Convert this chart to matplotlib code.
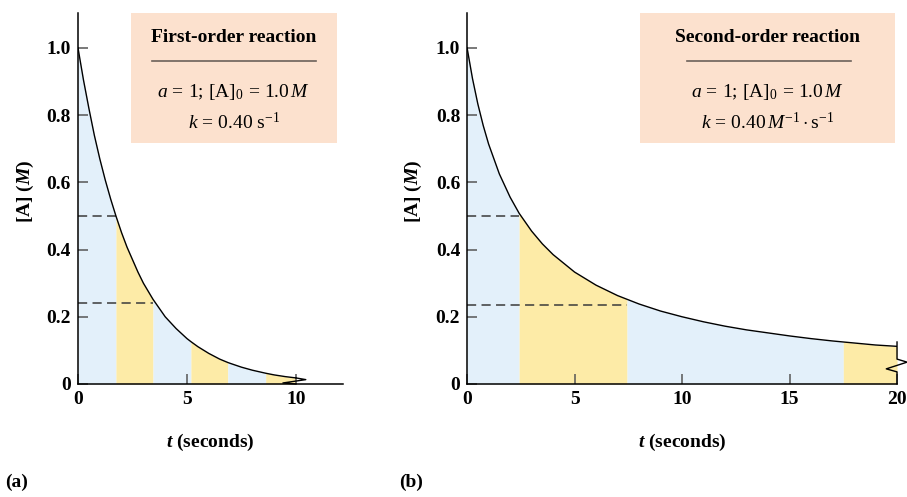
import numpy as np
import matplotlib
matplotlib.use('Agg')
import matplotlib.pyplot as plt
from matplotlib.patches import Rectangle

# ──────────────────────────────────────────────────────────────
# Datos
# ──────────────────────────────────────────────────────────────

# (a) primer orden: t (s) y [A] (M)
t_first = [0.0, 0.25, 0.5, 0.75, 1.0, 1.25, 1.5, 1.74, 2.0, 2.25, 2.5, 2.75,
           3.0, 3.44, 4.0, 4.5, 5.0, 5.18, 5.5, 6.0, 6.5, 6.87, 7.0, 7.5,
           8.0, 8.61, 9.0, 9.5, 10.0]
a_first = [1.00, 0.905, 0.82, 0.74, 0.67, 0.607, 0.55, 0.50, 0.45, 0.407,
           0.37, 0.333, 0.30, 0.252, 0.20, 0.165, 0.135, 0.126, 0.111, 0.091,
           0.074, 0.064, 0.061, 0.050, 0.041, 0.032, 0.027, 0.022, 0.018]
half_first = [0.0, 1.74, 3.44, 5.18, 6.87, 8.61, 10.0]   # límites de bandas
dash_first = [(0.50, 1.74), (0.24, 3.44)]               # (nivel, t final)

# (b) segundo orden
t_second = [0.0, 0.25, 0.5, 0.75, 1.0, 1.5, 2.0, 2.42, 3.0, 3.5, 4.0, 5.0,
            6.0, 7.0, 7.44, 8.0, 9.0, 10.0, 11.0, 12.0, 13.0, 14.0, 15.0,
            16.0, 17.0, 17.5, 18.0, 19.0, 20.0]
a_second = [1.00, 0.909, 0.833, 0.769, 0.714, 0.625, 0.556, 0.508, 0.455,
            0.417, 0.385, 0.333, 0.294, 0.263, 0.252, 0.238, 0.217, 0.200,
            0.185, 0.172, 0.161, 0.152, 0.143, 0.135, 0.128, 0.125, 0.122,
            0.116, 0.112]
half_second = [0.0, 2.42, 7.44, 17.5, 20.0]
dash_second = [(0.50, 2.42), (0.235, 7.44)]

yticks = [0, 0.2, 0.4, 0.6, 0.8, 1.0]
ytick_labels = ['0', '0.2', '0.4', '0.6', '0.8', '1.0']

# ──────────────────────────────────────────────────────────────
# Estilo
# ──────────────────────────────────────────────────────────────
plt.rcParams['font.family'] = 'Liberation Serif'
plt.rcParams['mathtext.fontset'] = 'custom'
plt.rcParams['mathtext.rm'] = 'Liberation Serif'
plt.rcParams['mathtext.it'] = 'Liberation Serif:italic'
plt.rcParams['mathtext.bf'] = 'Liberation Serif:bold'
plt.rcParams['mathtext.bfit'] = 'Liberation Serif:bold:italic'

BLUE   = '#E3F0FA'
YELLOW = '#FDEBA7'
PEACH  = '#FCE1CE'
FS     = 14

fig = plt.figure(figsize=(9.07, 4.97), dpi=100)
ax_a = fig.add_axes([0.086, 0.2274, 0.292, 0.7465])
ax_b = fig.add_axes([0.515, 0.2274, 0.474, 0.7465])


def panel(ax, t, a, bounds, dashes, xmax, xticks, title, line1, line2, box,
          ylab_x):
    t = np.array(t)
    a = np.array(a)
    # bandas alternadas bajo la curva
    for i in range(len(bounds) - 1):
        m = (t >= bounds[i] - 1e-9) & (t <= bounds[i + 1] + 1e-9)
        ax.fill_between(t[m], 0, a[m], color=BLUE if i % 2 == 0 else YELLOW,
                        lw=0, zorder=1)
    ax.plot(t, a, color='black', lw=1.0, zorder=3)
    for lvl, tend in dashes:
        ax.plot([0, tend], [lvl, lvl], color='#3a3a3a', lw=1.1,
                ls=(0, (6, 3.5)), zorder=2)

    ax.set_xlim(0, xmax)
    ax.set_ylim(0, 1.104)
    ax.set_xticks(xticks)
    ax.set_xticklabels([str(v) for v in xticks])
    ax.set_yticks(yticks)
    ax.set_yticklabels(ytick_labels)
    ax.tick_params(direction='in', length=7, width=1.1, color='#555555',
                   labelsize=FS, pad=5)
    for lab in ax.get_xticklabels() + ax.get_yticklabels():
        lab.set_fontweight('bold')
    for s in ['top', 'right']:
        ax.spines[s].set_visible(False)
    for s in ['left', 'bottom']:
        ax.spines[s].set_linewidth(1.1)
        ax.spines[s].set_zorder(4)

    ax.set_xlabel(r'$\mathbfit{t}$ (seconds)', fontsize=FS, fontweight='bold',
                  labelpad=17)
    ax.set_ylabel(r'[A] ($\mathbfit{M}$)', fontsize=FS, fontweight='bold')
    ax.yaxis.set_label_coords(ylab_x, 0.52)

    # recuadro con los datos de la reacción
    x0, x1, r0, r1 = box
    ax.add_patch(Rectangle((x0, 0.65), x1 - x0, 0.35, transform=ax.transAxes,
                           facecolor=PEACH, edgecolor='none', zorder=5,
                           clip_on=False))
    xc = (x0 + x1) / 2
    ax.text(xc, 0.935, title, transform=ax.transAxes, ha='center', va='center',
            fontsize=FS, fontweight='bold', zorder=6)
    ax.plot([r0, r1], [0.871, 0.871], transform=ax.transAxes, color='#6b615a',
            lw=1.2, zorder=6, clip_on=False)
    ax.text(xc, 0.787, line1, transform=ax.transAxes, ha='center',
            va='center', fontsize=FS, zorder=6)
    ax.text(xc, 0.706, line2, transform=ax.transAxes, ha='center',
            va='center', fontsize=FS, zorder=6)


panel(ax_a, t_first, a_first, half_first, dash_first, 12.15, [0, 5, 10],
      'First-order reaction',
      r'$a\,=\,1;\,[\mathrm{A}]_0\,=\,1.0\,M$',
      r'$k\,=\,0.40\ \mathrm{s}^{-1}$',
      (0.20, 0.977, 0.279, 0.898), -0.16)
panel(ax_b, t_second, a_second, half_second, dash_second, 20.0,
      [0, 5, 10, 15, 20],
      'Second-order reaction',
      r'$a\,=\,1;\,[\mathrm{A}]_0\,=\,1.0\,M$',
      r'$k\,=\,0.40\,M^{-1}\cdot\mathrm{s}^{-1}$',
      (0.402, 0.995, 0.512, 0.893), -0.10)

# marcas de corte al final de cada curva (desplazamientos en unidades de datos)
te, ae = t_first[-1], a_first[-1]
ax_a.plot([te, te + 0.45, te - 0.6, te], [ae, ae - 0.005, ae - 0.015, 0],
          color='black', lw=1.0, zorder=3, clip_on=False)
te, ae = t_second[-1], a_second[-1]
ax_b.plot([te, te, te + 0.47, te - 0.5, te, te],
          [ae + 0.013, 0.074, 0.065, 0.045, 0.036, 0],
          color='black', lw=1.0, zorder=3, clip_on=False)

fig.text(0.006, 0.02, '(a)', fontsize=FS, fontweight='bold')
fig.text(0.44, 0.02, '(b)', fontsize=FS, fontweight='bold')

fig.savefig('out.png', dpi=100)
